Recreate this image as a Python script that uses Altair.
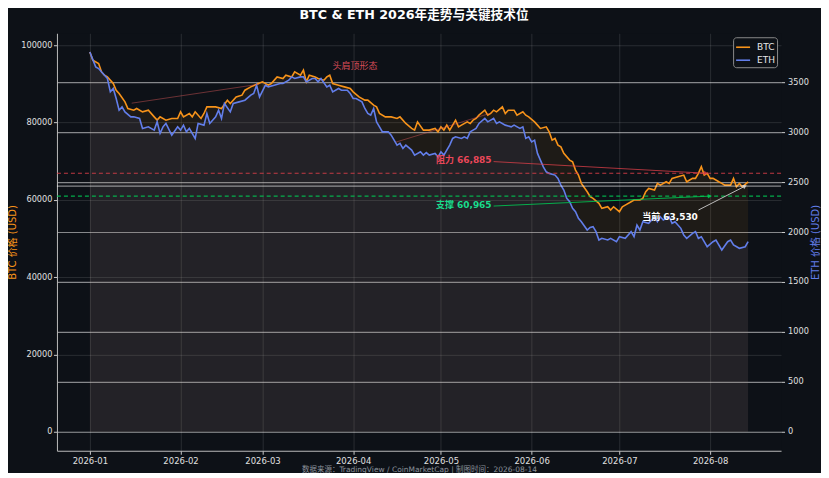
import math
import altair as alt
import pandas as pd

# ---------------- data ----------------
btc_day = [0, 1, 3, 4, 5, 6, 8, 9, 10, 12, 13, 15, 16, 18, 20, 22, 23, 24, 26, 28,
           30, 31, 32, 34, 35, 36, 38, 39, 40, 43, 45, 47, 48, 50, 52, 53, 55, 57, 59, 61,
           62, 64, 66, 67, 69, 70, 72, 73, 74, 75, 77, 78, 80, 81, 82, 83, 85, 87, 89, 90,
           92, 94, 95, 97, 98, 99, 101, 103, 105, 106, 108, 110, 111, 112, 114, 115, 116, 118, 119, 120,
           121, 122, 123, 125, 126, 127, 129, 130, 131, 132, 133, 135, 136, 137, 138, 139, 141, 142, 143, 145,
           146, 148, 149, 150, 152, 153, 154, 156, 157, 158, 159, 160, 161, 162, 164, 165, 166, 167, 168, 170,
           171, 172, 174, 175, 177, 178, 179, 181, 182, 183, 185, 186, 188, 189, 190, 191, 193, 194, 195, 197,
           198, 199, 201, 203, 204, 206, 207, 208, 209, 210, 211, 212, 213, 215, 216, 217, 219, 220, 221, 222,
           223, 225]
btc_price = [98270, 96100, 95270, 93100, 92250, 91800, 90100, 88370, 87500, 85350, 83640, 83200, 83640, 82770, 83200, 81470, 80620, 81470, 80620, 81060,
             81060, 82770, 81470, 82350, 81470, 82770, 81060, 82350, 84060, 84060, 83640, 85790, 84940, 86640, 87080, 88370, 89230, 89900, 90520, 89670,
             90100, 91800, 91400, 92250, 91800, 93100, 92250, 93540, 90520, 92250, 91800, 91400, 90960, 91800, 92250, 90100, 89670, 89230, 88800, 87930,
             86640, 85790, 85790, 84500, 84060, 82350, 81470, 81470, 81060, 81470, 79770, 78480, 78040, 80180, 78040, 78040, 78040, 78480, 77600, 78890,
             78040, 79330, 78040, 80620, 78890, 79330, 80180, 79770, 80620, 81060, 81910, 83200, 81910, 82350, 83200, 82770, 84060, 82350, 83200, 83200,
             81910, 82770, 81910, 81470, 80180, 79330, 78480, 78890, 77600, 75450, 75890, 74160, 73720, 72020, 70280, 69850, 67700, 66410, 64270, 62100,
             60800, 60400, 59100, 57800, 58220, 57370, 58220, 56930, 58220, 58650, 59510, 59950, 59950, 60390, 62100, 62970, 62530, 64270, 63820, 64680,
             64270, 65550, 65980, 66410, 64680, 65550, 65550, 66840, 68560, 66410, 66840, 65550, 65550, 64680, 64270, 63820, 63820, 65550, 63390, 64270,
             63390, 64680]

eth_day = [0, 2, 3, 5, 6, 7, 8, 9, 10, 11, 12, 14, 15, 17, 18, 20, 22, 23, 24, 25,
           26, 28, 30, 31, 32, 33, 34, 36, 37, 39, 40, 41, 43, 44, 45, 46, 48, 49, 51, 53,
           55, 56, 57, 58, 60, 61, 63, 65, 66, 68, 69, 70, 72, 73, 74, 76, 77, 78, 79, 81,
           82, 83, 85, 86, 88, 89, 90, 91, 93, 94, 95, 96, 97, 98, 99, 100, 102, 103, 104, 105,
           106, 107, 108, 110, 111, 113, 114, 115, 116, 118, 119, 120, 121, 122, 123, 124, 125, 127, 128, 129,
           130, 131, 132, 133, 135, 136, 137, 138, 139, 140, 142, 144, 145, 147, 148, 149, 150, 151, 152, 153,
           154, 155, 156, 157, 159, 160, 161, 162, 163, 164, 165, 166, 167, 168, 170, 171, 172, 173, 174, 175,
           177, 178, 180, 181, 183, 185, 186, 187, 188, 189, 191, 193, 194, 195, 196, 198, 199, 200, 202, 203,
           204, 206, 207, 208, 209, 211, 213, 214, 216, 218, 219, 220, 222, 224, 225]
eth_price = [3803, 3653, 3637, 3570, 3537, 3403, 3437, 3337, 3220, 3253, 3203, 3153, 3153, 3137, 3037, 3053, 3020, 3103, 2987, 3053,
             3087, 2970, 3053, 3020, 3070, 3003, 3037, 2937, 3087, 3070, 3187, 3087, 3153, 3220, 3137, 3287, 3203, 3287, 3303, 3320,
             3370, 3387, 3470, 3353, 3470, 3453, 3470, 3487, 3487, 3520, 3553, 3537, 3553, 3553, 3503, 3537, 3537, 3503, 3537, 3453,
             3470, 3403, 3437, 3420, 3420, 3387, 3337, 3337, 3303, 3237, 3187, 3170, 3237, 3103, 3053, 3003, 3003, 2970, 2920, 2870,
             2887, 2837, 2870, 2820, 2770, 2803, 2770, 2795, 2770, 2787, 2753, 2803, 2770, 2820, 2870, 2937, 2953, 2937, 2953, 2937,
             3003, 3020, 3037, 3087, 3137, 3103, 3120, 3137, 3087, 3103, 3070, 3053, 3070, 3037, 3053, 2937, 2953, 2903, 2920, 2787,
             2720, 2653, 2603, 2587, 2570, 2537, 2470, 2420, 2337, 2303, 2237, 2203, 2137, 2103, 2020, 2045, 2053, 2003, 1920, 1937,
             1920, 1937, 1903, 1953, 1937, 2003, 1953, 2070, 2020, 2103, 2087, 2153, 2103, 2153, 2120, 2153, 2087, 2103, 2037, 1970,
             1937, 1987, 2003, 1937, 1953, 1853, 1903, 1920, 1820, 1903, 1920, 1870, 1837, 1853, 1903]

resistance = 66885
support = 60965
current = 63530

label_text = ["头肩顶形态", "阻力 66,885", "支撑 60,965", "当前 63,530"]
label_day = [90.6, 127.8, 127.8, 198.3]
label_price = [94570, 70285, 58730, 55630]

arrow_day0 = [138.0, 138.0, 208.0]
arrow_p0 = [69900, 58400, 57365]
arrow_day1 = [210.6, 211.9, 223.9]
arrow_p1 = [resistance, support, current]

hs_day0 = [14.3, 104.6]
hs_p0 = [85010, 74940]
hs_day1 = [57.9, 137.0]
hs_p1 = [89920, 82430]

# ---------------- styling ----------------
FONT = "DejaVu Sans, Noto Sans CJK SC, sans-serif"
BG = "#0d1117"
ORANGE = "#f7931a"
BLUE = "#627eea"
RED = "#ea4759"
GREEN = "#19dc8c"
W, H = 725, 418
BTC_DOM = [-4900, 103100]
ETH_DOM = [-190, 3990]

start = pd.Timestamp("2026-01-01")


def to_dates(days):
    return start + pd.to_timedelta(days, unit="D")


btc_df = pd.DataFrame({"date": to_dates(btc_day), "price": btc_price, "series": "BTC"})
eth_df = pd.DataFrame({"date": to_dates(eth_day), "price": eth_price, "series": "ETH"})

xscale = alt.Scale(domain=[alt.DateTime(year=2025, month=12, date=20, hours=18),
                           alt.DateTime(year=2026, month=8, date=25, hours=6)])
x_axis = alt.Axis(values=[alt.DateTime(year=2026, month=m, date=1) for m in range(1, 9)],
                  format="%Y-%m", labelColor="#e0e0e0", labelFontSize=8.5, tickColor="#cccccc",
                  tickSize=3.5, labelPadding=2, domainColor="#bdbdbd", grid=True,
                  gridColor="#ffffff", gridOpacity=0.12,
                  title="数据来源：TradingView / CoinMarketCap | 制图时间：2026-08-14",
                  titleColor="#8b929b", titleFontSize=7.5, titleFontWeight="normal", titlePadding=1)

btc_scale = alt.Scale(domain=BTC_DOM, nice=False, zero=False)
eth_scale = alt.Scale(domain=ETH_DOM, nice=False, zero=False)
btc_axis = alt.Axis(values=[0, 20000, 40000, 60000, 80000, 100000], format="d", orient="left",
                    title="BTC 价格 (USD)", titleColor=ORANGE, titleFontSize=10, titleFontWeight="normal",
                    titlePadding=3, labelColor="#e0e0e0", labelFontSize=8.2, tickColor="#cccccc",
                    tickSize=3.5, labelPadding=1.5, domainColor="#bdbdbd", grid=True,
                    gridColor="#ffffff", gridOpacity=0.12)
eth_axis = alt.Axis(values=list(range(0, 4000, 500)), format="d", orient="right",
                    title="ETH 价格 (USD)", titleColor=BLUE, titleFontSize=10, titleFontWeight="normal",
                    titleAngle=270, titleBaseline="top", titlePadding=2, labelColor="#e0e0e0",
                    labelFontSize=8.2, tickColor="#cccccc", tickSize=3.5, labelPadding=3, domain=False,
                    grid=True, gridColor="#ffffff", gridOpacity=0.5, gridWidth=1.2)

color_scale = alt.Scale(domain=["BTC", "ETH"], range=[ORANGE, BLUE])
legend = alt.Legend(title=None, orient="top-right", offset=4, fillColor=BG, strokeColor="#8a8a8a",
                    padding=2, cornerRadius=3, symbolType="stroke", symbolSize=196, symbolStrokeWidth=1.6,
                    labelColor="#e6e6e6", labelFontSize=9, rowPadding=-2, labelOffset=6)

X = alt.X("date:T", scale=xscale, axis=x_axis)

btc_group = alt.layer(
    alt.Chart(btc_df).mark_area(color=ORANGE, opacity=0.08).encode(
        x=X, y=alt.Y("price:Q", scale=btc_scale, axis=btc_axis), y2=alt.datum(0)),
    alt.Chart(btc_df).mark_line(strokeWidth=1.6).encode(
        x=X, y=alt.Y("price:Q", scale=btc_scale, axis=btc_axis),
        color=alt.Color("series:N", scale=color_scale, legend=legend)),
)

eth_group = alt.layer(
    alt.Chart(eth_df).mark_area(color=BLUE, opacity=0.08).encode(
        x=X, y=alt.Y("price:Q", scale=eth_scale, axis=eth_axis), y2=alt.datum(0)),
    alt.Chart(eth_df).mark_line(strokeWidth=1.6).encode(
        x=X, y=alt.Y("price:Q", scale=eth_scale, axis=eth_axis),
        color=alt.Color("series:N", scale=color_scale, legend=legend)),
)

YA = lambda f: alt.Y(f"{f}:Q", scale=btc_scale, axis=None)

annot = []
# horizontal levels
for lvl, col, dash, op, sw in [(resistance, "#e0404a", [4, 3], 0.85, 1.1),
                               (support, "#00c853", [4, 3], 0.85, 1.1),
                               (current, "#ffffff", None, 0.5, 1.2)]:
    kw = dict(color=col, opacity=op, strokeWidth=sw)
    if dash:
        kw["strokeDash"] = dash
    annot.append(alt.Chart(pd.DataFrame({"level": [lvl]})).mark_rule(**kw).encode(y=YA("level")))

# head & shoulders helper lines
hs_df = pd.DataFrame({"d0": to_dates(hs_day0), "p0": hs_p0, "d1": to_dates(hs_day1), "p1": hs_p1})
annot.append(alt.Chart(hs_df).mark_rule(color="#e05a5a", opacity=0.45, strokeWidth=1).encode(
    x=alt.X("d0:T", scale=xscale, axis=x_axis), x2="d1:T", y=YA("p0"), y2="p1:Q"))

# arrows
px_day = W / 247.5
px_usd = H / (BTC_DOM[1] - BTC_DOM[0])
arrow_cols = [("#e0404a", 0.75), ("#00c853", 0.85), ("#d8d8d8", 0.85)]
for i, (col, op) in enumerate(arrow_cols):
    a_df = pd.DataFrame({"d0": to_dates([arrow_day0[i]]), "p0": [arrow_p0[i]],
                         "d1": to_dates([arrow_day1[i]]), "p1": [arrow_p1[i]]})
    ang = math.degrees(math.atan2(-(arrow_p1[i] - arrow_p0[i]) * px_usd,
                                  (arrow_day1[i] - arrow_day0[i]) * px_day)) % 360
    annot.append(alt.Chart(a_df).mark_rule(color=col, opacity=op, strokeWidth=1).encode(
        x=alt.X("d0:T", scale=xscale, axis=x_axis), x2="d1:T", y=YA("p0"), y2="p1:Q"))
    annot.append(alt.Chart(a_df).mark_point(shape="triangle-right", filled=True, size=22, angle=ang,
                                            color=col, opacity=op).encode(
        x=alt.X("d1:T", scale=xscale, axis=x_axis), y=YA("p1")))

# text labels
text_styles = [("#d64c58", "normal"), (RED, "bold"), (GREEN, "bold"), ("#ffffff", "bold")]
for i, (col, fw) in enumerate(text_styles):
    t_df = pd.DataFrame({"d": to_dates([label_day[i]]), "p": [label_price[i]], "t": [label_text[i]]})
    annot.append(alt.Chart(t_df).mark_text(color=col, fontWeight=fw, fontSize=9, font=FONT).encode(
        x=alt.X("d:T", scale=xscale, axis=x_axis), y=YA("p"), text="t:N"))

annot_group = alt.layer(*annot)

chart = alt.layer(btc_group, eth_group, annot_group).resolve_scale(y="independent").properties(
    width=W, height=H,
    title=alt.Title("BTC & ETH 2026年走势与关键技术位", color="#ffffff", fontSize=12.7, fontWeight="bold",
                    font=FONT, anchor="middle", offset=12, dx=-5),
    padding={"left": 49, "top": 25, "right": 40, "bottom": 22},
    autosize=alt.AutoSizeParams(type="none"),
).configure(background=BG, font=FONT).configure_view(stroke=None, fill=BG).configure_axis(
    labelFont=FONT, titleFont=FONT).configure_legend(labelFont=FONT)

chart.save("out.html", embed_options={"renderer": "svg", "actions": False})
